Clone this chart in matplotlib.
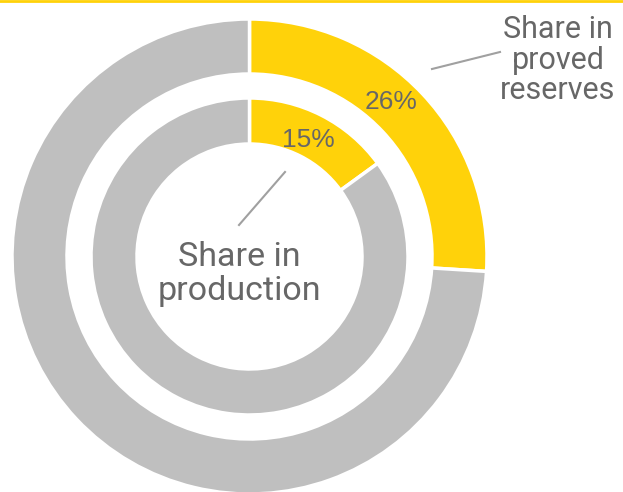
import matplotlib
matplotlib.use("Agg")
import matplotlib.pyplot as plt

# shares (percent) of the highlighted region
reserves_share = [26, 74]
production_share = [15, 85]
reserves_label = "Share in\nproved\nreserves"
production_label = "Share in\nproduction"

YELLOW = "#FFD20A"
GREY = "#BFBFBF"
TEXT = "#676767"

W, H = 623, 492
cx, cy, R = 249.5, 256.5, 237.5   # pixel centre / outer radius

fig = plt.figure(figsize=(W / 100, H / 100), dpi=100)
ax = fig.add_axes([0, 0, 1, 1])

wedge_kw = dict(edgecolor="white", linewidth=2.5)
ax.pie(reserves_share, radius=1.0, startangle=90, counterclock=False,
       colors=[YELLOW, GREY], wedgeprops=dict(width=55 / R, **wedge_kw))
ax.pie(production_share, radius=158.5 / R, startangle=90, counterclock=False,
       colors=[YELLOW, GREY], wedgeprops=dict(width=46 / R, **wedge_kw))

# pie() resets the limits, so fix them afterwards
ax.set_xlim(-cx / R, (W - cx) / R)
ax.set_ylim(-(H - cy) / R, cy / R)
ax.set_aspect("equal")
ax.axis("off")

def px(x, y):
    return (x - cx) / R, (cy - y) / R

ax.text(*px(391, 102), f"{reserves_share[0]}%", ha="center", va="center",
        fontsize=19, color=TEXT, family="Liberation Sans")
ax.text(*px(308, 140), f"{production_share[0]}%", ha="center", va="center",
        fontsize=19, color=TEXT, family="Liberation Sans")

ax.text(*px(558, 60), reserves_label, ha="center", va="center", fontsize=22,
        color=TEXT, family="Roboto", linespacing=1.05)
ax.text(*px(239, 274), production_label, ha="center", va="center", fontsize=24.5,
        color=TEXT, family="Roboto", linespacing=1.1)

# leader lines
ax.plot(*zip(px(432, 69), px(500, 52)), color="#A0A0A0", lw=1.5)
ax.plot(*zip(px(285, 172), px(239, 225)), color="#A0A0A0", lw=1.5)

# thin yellow rule along the top edge
fig.add_artist(plt.Line2D([0, 1], [0.998, 0.998], color=YELLOW, lw=2,
                          transform=fig.transFigure))

fig.savefig("out.png", dpi=100)
